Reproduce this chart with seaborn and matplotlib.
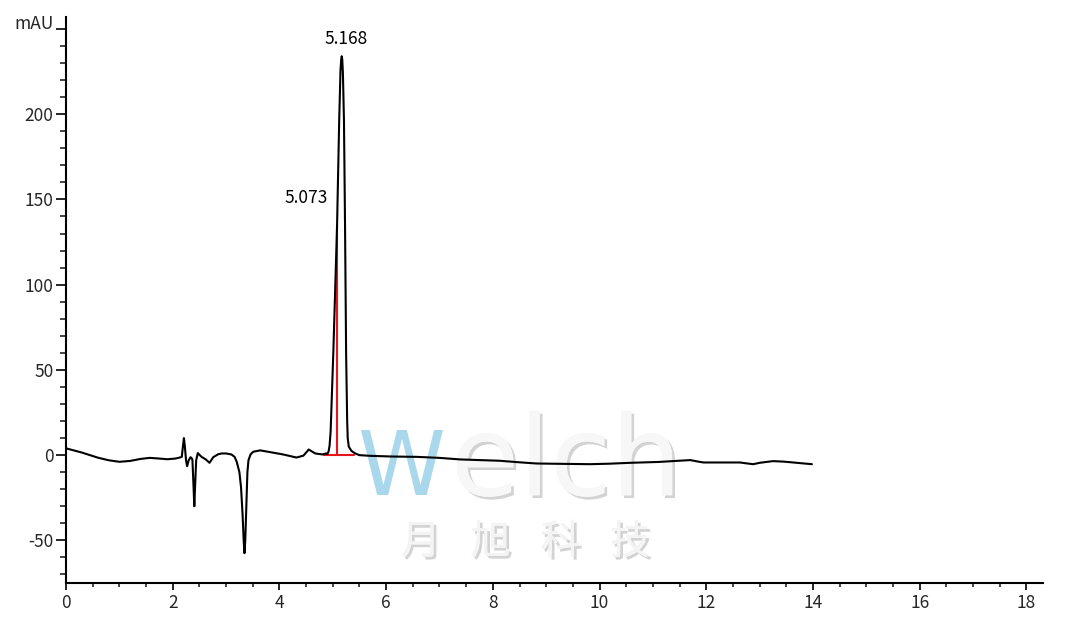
import matplotlib
matplotlib.use("Agg")
import matplotlib.pyplot as plt
import matplotlib.patheffects as pe
import seaborn as sns
import pandas as pd

# ---- data ----
time_min = [0.0, 0.3, 0.6, 0.8, 1.0, 1.2, 1.4, 1.57, 1.75, 1.9, 2.05, 2.12,
            2.17, 2.195, 2.21, 2.225, 2.25, 2.27, 2.30, 2.335, 2.36, 2.37, 2.39,
            2.405, 2.42, 2.44, 2.47, 2.54, 2.62, 2.69, 2.76, 2.85, 2.92, 3.0,
            3.1, 3.16, 3.2, 3.25, 3.28, 3.31, 3.33, 3.345, 3.36, 3.38, 3.40,
            3.42, 3.46, 3.51, 3.64, 3.82, 4.07, 4.32, 4.45, 4.55, 4.67, 4.81,
            4.87, 4.9, 4.92, 4.94, 4.96, 5.01, 5.08, 5.12, 5.145, 5.158, 5.168,
            5.178, 5.19, 5.21, 5.23, 5.25, 5.27, 5.28, 5.30, 5.35, 5.42, 5.5,
            5.7, 6.1, 6.57, 7.0, 7.38, 7.75, 8.13, 8.5, 8.82, 9.3, 9.82, 10.2,
            10.57, 11.1, 11.7, 11.85, 11.95, 12.3, 12.63, 12.75, 12.88, 13.0,
            13.25, 13.45, 13.63, 13.8, 13.98]
signal_mau = [4.0, 1.5, -1.5, -3.0, -3.9, -3.4, -2.2, -1.6, -2.0, -2.4, -2.0, -1.5,
              -1.0, 6.0, 10.0, 6.0, -3.0, -6.5, -3.0, -1.2, -2.0, -3.0, -18.0,
              -30.0, -18.0, -3.0, 1.2, -1.0, -2.5, -4.5, -1.2, 0.5, 1.0, 1.0,
              0.4, -1.0, -3.9, -10.0, -18.6, -35.0, -50.0, -57.5, -50.0, -30.0, -10.0,
              -3.0, 0.5, 2.0, 2.8, 1.8, 0.4, -1.4, -0.3, 3.3, 1.0, 0.4,
              1.0, 0.8, 2.0, 5.5, 14.0, 60.0, 134.0, 196.0, 226.0, 232.0, 234.0,
              232.0, 224.0, 196.0, 134.0, 60.0, 20.0, 10.0, 5.0, 2.5, 1.0, 0.0,
              -0.4, -0.8, -1.0, -1.6, -2.5, -2.9, -3.3, -4.2, -4.9, -5.1, -5.3, -5.0,
              -4.5, -4.0, -2.9, -3.8, -4.3, -4.3, -4.3, -4.8, -5.3, -4.5,
              -3.5, -3.8, -4.3, -4.8, -5.3]

# integration marks
baseline_x = [4.84, 5.40]
baseline_y = [0.0, 0.0]
drop_x = [5.073, 5.073]
drop_y = [0.0, 134.0]

# peak labels
peak_labels = ["5.168", "5.073"]
peak_label_x = [5.168, 5.073]
peak_label_y = [234.0, 134.0]

yticks = [-50, 0, 50, 100, 150, 200, 250]
ytick_labels = ["-50", "0", "50", "100", "150", "200", "mAU"]
xticks = [0, 2, 4, 6, 8, 10, 12, 14, 16, 18]
xtick_labels = ["0", "2", "4", "6", "8", "10", "12", "14", "16", "18"]

watermark_main = "Welch"
watermark_cn = ["月", "旭", "科", "技"]

# ---- plotting ----
sns.set_style("white")
plt.rcParams["font.family"] = ["Noto Sans CJK SC", "DejaVu Sans"]

fig = plt.figure(figsize=(10.8, 6.17), dpi=100)
ax = fig.add_axes([0.0611, 0.0551, 0.9046, 0.9173])

df = pd.DataFrame({"time": time_min, "signal": signal_mau})

# watermark (behind the trace)
shadow = [pe.withSimplePatchShadow(offset=(2, -2), shadow_rgbFace="#b0b0b0", alpha=0.55),
          pe.Normal()]
ax.text(0.298, 0.155, watermark_main[0], transform=ax.transAxes, fontsize=64,
        family=["DejaVu Sans"], color="#a9d8ec", ha="left", va="baseline",
        zorder=0)
ax.text(0.394, 0.155, watermark_main[1:], transform=ax.transAxes, fontsize=80,
        family=["DejaVu Sans"], color="#f7f7f7", ha="left", va="baseline",
        zorder=0, path_effects=shadow)
for i, ch in enumerate(watermark_cn):
    ax.text(0.363 + i * 0.0715, 0.072, ch, transform=ax.transAxes, fontsize=29,
            color="#f4f4f4", ha="center", va="center", zorder=0,
            path_effects=shadow)

sns.lineplot(data=df, x="time", y="signal", sort=False, estimator=None,
             color="black", linewidth=1.5, ax=ax, zorder=3)
sns.lineplot(x=baseline_x, y=baseline_y, color="#e8141c", linewidth=1.5,
             ax=ax, zorder=2, sort=False, estimator=None)
sns.lineplot(x=drop_x, y=drop_y, color="#e8141c", linewidth=1.5,
             ax=ax, zorder=2, sort=False, estimator=None)

ax.annotate(peak_labels[0], xy=(peak_label_x[0], peak_label_y[0]),
            xytext=(3, 6), textcoords="offset points", ha="center", va="bottom",
            fontsize=12.5, color="black")
ax.annotate(peak_labels[1], xy=(peak_label_x[1], peak_label_y[1]),
            xytext=(-6, 21), textcoords="offset points", ha="right", va="center",
            fontsize=12.5, color="black")

ax.set_xlim(0, 18.31)
ax.set_ylim(-75, 257)
ax.set_xticks(xticks)
ax.set_xticklabels(xtick_labels)
ax.set_yticks(yticks)
ax.set_yticklabels(ytick_labels)
ax.get_yticklabels()[-1].set_verticalalignment("baseline")
ax.xaxis.set_minor_locator(matplotlib.ticker.MultipleLocator(0.5))
ax.yaxis.set_minor_locator(matplotlib.ticker.MultipleLocator(10))

ax.tick_params(axis="y", which="major", direction="out", length=7, width=1.4,
               labelsize=12.5, pad=2, left=True)
ax.tick_params(axis="y", which="minor", direction="out", length=4.5, width=1.2, left=True)
ax.tick_params(axis="x", which="major", direction="out", length=5, width=1.4,
               labelsize=12.5, pad=3, bottom=True)
ax.tick_params(axis="x", which="minor", direction="out", length=3, width=1.2, bottom=True)

for s in ["top", "right"]:
    ax.spines[s].set_visible(False)
for s in ["left", "bottom"]:
    ax.spines[s].set_linewidth(1.5)
    ax.spines[s].set_color("black")

ax.set_xlabel("")
ax.set_ylabel("")
ax.grid(False)

fig.savefig("out.png", dpi=100)
